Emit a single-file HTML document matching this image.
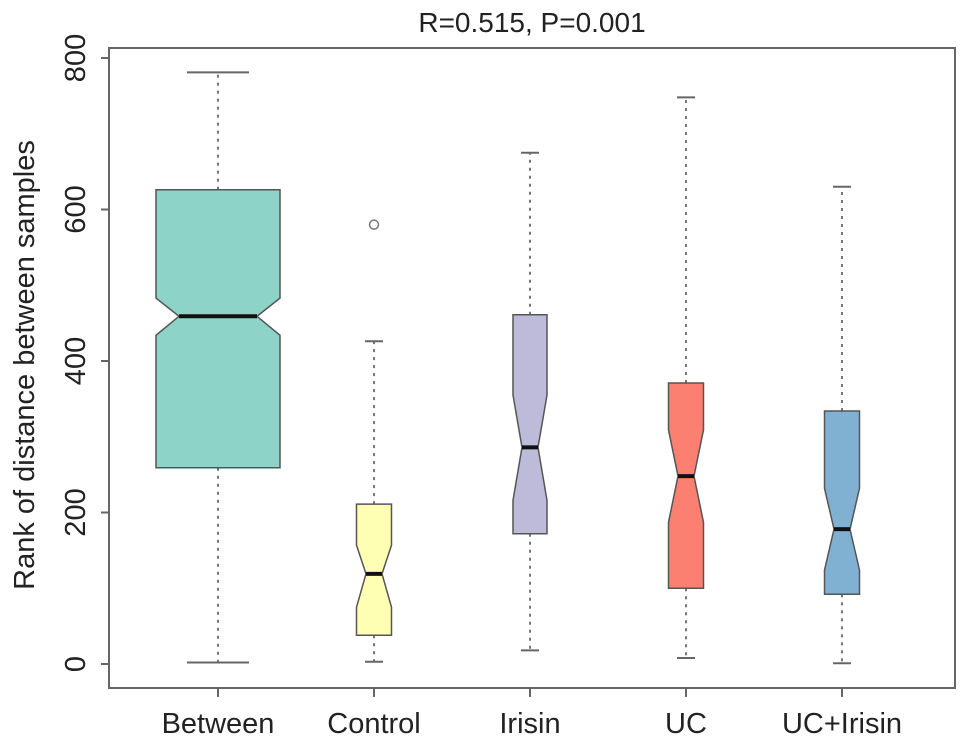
<!DOCTYPE html>
<html><head><meta charset="utf-8"><style>
html,body{margin:0;padding:0;background:#fff;}
svg{display:block;font-family:"Liberation Sans",Arial,sans-serif;}
</style></head><body>
<svg id="chart" width="968" height="747" viewBox="0 0 968 747" xmlns="http://www.w3.org/2000/svg">
<text x="532" y="32" font-size="28" text-anchor="middle" fill="#222">R=0.515, P=0.001</text>
<text transform="translate(34,365) rotate(-90)" font-size="29" text-anchor="middle" fill="#222">Rank of distance between samples</text>
<rect x="109" y="48" width="846" height="640" fill="none" stroke="#666" stroke-width="2"/>
<g id="marks"></g>
</svg>
<script>
const categories = ["Between","Control","Irisin","UC","UC+Irisin"];
const colors = ["#8DD3C7","#FFFFB3","#BEBADA","#FB8072","#80B1D3"];
const whiskerLow = [2,3,18,8,1];
const q1 = [259,38,172,100,92];
const notchLow = [434,75,216,187,124];
const median = [459,119,286,248,178];
const notchHigh = [483,157,355,309,232];
const q3 = [626,211,461,371,334];
const whiskerHigh = [781,426,675,748,630];
const outliers = [[],[580],[],[],[]];
const yTicks = [0,200,400,600,800];

const NS="http://www.w3.org/2000/svg";
const g=document.getElementById('marks');
function y(v){return 664-(v)*0.7575;}
function x(i){return 218+i*156;}
function mk(tag,attrs,parent){const e=document.createElementNS(NS,tag);for(const k in attrs)e.setAttribute(k,attrs[k]);(parent||g).appendChild(e);return e;}
const halfW=[62,17.5,17,17.5,17.5];
const notchW=[39,8,8,8,8];
const capW=[31,9,9,9,9];

yTicks.forEach(t=>{
  const l=mk('line',{x1:101,x2:109,y1:y(t),y2:y(t),stroke:'#666','stroke-width':2});
  
  
  const tx=mk('text',{transform:`translate(85,${y(t)}) rotate(-90)`,'font-size':29,'text-anchor':'middle',fill:'#222'});
  tx.textContent=t;
  
  
});

categories.forEach((c,i)=>{
  const cx=x(i), w=halfW[i], nw=notchW[i];
  const grp=mk('g',{});
  
  
  mk('line',{x1:cx,x2:cx,y1:y(q3[i]),y2:y(whiskerHigh[i]),stroke:'#777','stroke-width':2,'stroke-dasharray':'3,5'},grp);
  mk('line',{x1:cx,x2:cx,y1:y(q1[i]),y2:y(whiskerLow[i]),stroke:'#777','stroke-width':2,'stroke-dasharray':'3,5'},grp);
  mk('line',{x1:cx-capW[i],x2:cx+capW[i],y1:y(whiskerHigh[i]),y2:y(whiskerHigh[i]),stroke:'#666','stroke-width':2},grp);
  mk('line',{x1:cx-capW[i],x2:cx+capW[i],y1:y(whiskerLow[i]),y2:y(whiskerLow[i]),stroke:'#666','stroke-width':2},grp);
  const pts=[[cx-w,y(q3[i])],[cx+w,y(q3[i])],[cx+w,y(notchHigh[i])],[cx+nw,y(median[i])],[cx+w,y(notchLow[i])],[cx+w,y(q1[i])],[cx-w,y(q1[i])],[cx-w,y(notchLow[i])],[cx-nw,y(median[i])],[cx-w,y(notchHigh[i])]];
  mk('polygon',{points:pts.map(p=>p.join(',')).join(' '),fill:colors[i],stroke:'#555','stroke-width':1.5},grp);
  mk('line',{x1:cx-nw,x2:cx+nw,y1:y(median[i]),y2:y(median[i]),stroke:'#111','stroke-width':4},grp);
  outliers[i].forEach(o=>{
    const ci=mk('circle',{cx:cx,cy:y(o),r:4.5,fill:'none',stroke:'#777','stroke-width':1.5},grp);
    
    
  });
  const tk=mk('line',{x1:cx,x2:cx,y1:688,y2:697,stroke:'#666','stroke-width':2});
  
  
  const lb=mk('text',{x:cx,y:733,'font-size':29,'text-anchor':'middle',fill:'#222'});
  lb.textContent=c;
  
  
});
</script>
</body></html>
